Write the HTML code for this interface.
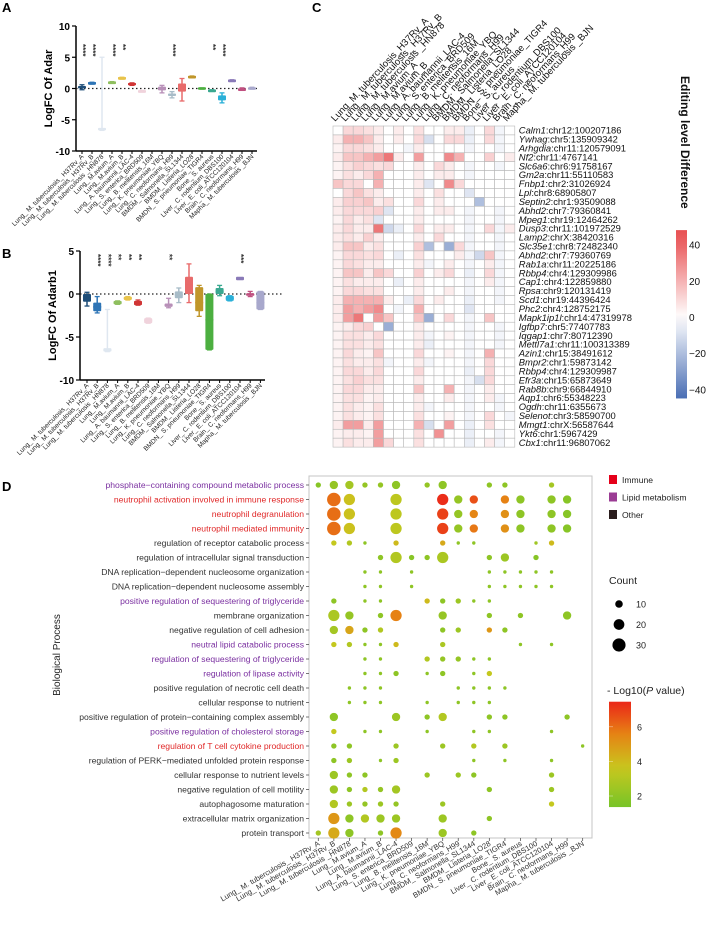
<!DOCTYPE html>
<html><head><meta charset="utf-8"><style>
body{margin:0;background:#fff}
svg text{font-family:"Liberation Sans",sans-serif}
</style></head><body>
<svg id="s" width="709" height="921" viewBox="0 0 709 921" xmlns="http://www.w3.org/2000/svg">
<text x="2" y="12" font-size="13" font-weight="bold">A</text>
<text x="2" y="258" font-size="13" font-weight="bold">B</text>
<text x="312" y="12" font-size="13" font-weight="bold">C</text>
<text x="2" y="491" font-size="13" font-weight="bold">D</text>
<g id="A"></g><g id="B"></g><g id="C"></g><g id="D"></g>
</svg>
<script>
const groups=["Lung_ M. tuberculosis_ H37Rv_A","Lung_ M. tuberculosis_ H37Rv_B","Lung_ M. tuberculosis _HN878","Lung_ M.avium_A","Lung_ M.avium_B","Lung_ A. baumannii_LAC-4","Lung_ S. enterica_BRD509","Lung_ B. melitensis_16M","Lung_ K. pneumoniae_YBQ","Lung_ C. neoformans_H99","BMDM_ Salmonella_SL1344","BMDM_ Listeria_LO28","BMDN_ S. pneumoniae_TIGR4","Bone_ S. aureus","Liver_ C. rodentium_DBS100","Liver_ E. coli_ATCC120104","Brain_ C. neoformans_H99","Mapha_ M. tuberculosis _BJN"];
const groupColors=['#1f4e79','#2e75b6','#dfe7f0','#8fbf5f','#e8c34a','#d03535','#f0d3dc','#eeeeee','#b890b8','#a8bcc8','#e86b6b','#c0962a','#4caf40','#3aa890','#2ab0d8','#8a7ab8','#c05080','#a8a8cc'];
const aMid=[0.2,0.9,-6.5,1.0,1.7,0.7,-0.4,null,0,-1,0.2,1.9,0,-0.3,-1.5,1.3,-0.1,0];
const aLo=[-0.2,0.7,-6.7,0.9,1.5,0.5,-0.5,null,-0.7,-1.5,-2,1.8,-0.1,-0.4,-2.3,1.2,-0.3,-0.1];
const aHi=[0.6,1.0,5,1.1,1.8,0.9,-0.3,null,0.5,-0.5,1.6,2.0,0.1,-0.2,-0.7,1.4,0.1,0.2];
const aQ1=[0,0.8,-6.7,0.9,1.5,0.5,-0.5,null,-0.3,-1.2,-0.5,1.8,-0.2,-0.4,-1.9,1.2,-0.3,-0.2];
const aQ3=[0.4,1.0,-6.3,1.1,1.8,0.9,-0.3,null,0.3,-0.8,0.8,2.0,0.2,-0.2,-1.1,1.4,0,0.2];
const aStars=["****","****","","****","**","","","","","****","","","","**","****","","",""];
const bMid=[-0.3,-1.5,-6.5,-1,-0.5,-1,-3.1,null,-1.3,-0.1,1,-1,-3,0.3,-0.5,1.8,-0.1,-1];
const bLo=[-1.4,-2.2,-6.7,-1.2,-0.7,-1.3,-3.4,null,-1.6,-1,-1,-2.6,-6.5,-0.2,-0.8,1.7,-0.3,-1.8];
const bHi=[0.2,-0.3,-1.8,-0.8,-0.3,-0.7,-2.8,null,-0.5,0.7,3.5,1,0,1,-0.2,1.9,0.3,0.3];
const bQ1=[-0.9,-2,-6.7,-1.2,-0.7,-1.3,-3.4,null,-1.5,-0.5,0,-2,-6.5,0,-0.8,1.6,-0.2,-1.8];
const bQ3=[0,-1,-6.3,-0.8,-0.3,-0.8,-2.8,null,-1.1,0.3,2,0.8,0,0.7,-0.2,2.0,0.1,0.3];
const bStars=["","****","****","**","**","**","","","**","","","","","","","***","",""];
const yTicksAB=[10,5,0,-5,-10];
const yTicksB=[5,0,-5,-10];

const NS="http://www.w3.org/2000/svg";
function mk(p,t,a,txt){const e=document.createElementNS(NS,t);for(const k in a)e.setAttribute(k,a[k]);if(txt!==undefined)e.textContent=txt;p.appendChild(e);return e;}

function boxPanel(gid,cfg){
  const g=document.getElementById(gid);
  const y=v=>cfg.y0+(cfg.vmax-v)*(cfg.y1-cfg.y0)/(cfg.vmax-cfg.vmin);
  const x=i=>cfg.x0+i*cfg.dx;
  let e=mk(g,'line',{x1:cfg.ax,y1:y(cfg.vmax),x2:cfg.ax,y2:y(cfg.vmin),stroke:'#000','stroke-width':1.5});
  
  e=mk(g,'line',{x1:cfg.ax,y1:y(cfg.vmin),x2:cfg.xend,y2:y(cfg.vmin),stroke:'#000','stroke-width':1.5});
  
  e=mk(g,'line',{x1:cfg.ax,y1:y(0),x2:cfg.xend+cfg.dotExt,y2:y(0),stroke:'#222','stroke-width':1.2,'stroke-dasharray':'1.5,2.5'});
  
  cfg.ticks.forEach(t=>{
    mk(g,'line',{x1:cfg.ax-4,y1:y(t),x2:cfg.ax,y2:y(t),stroke:'#000','stroke-width':1.2});
    const tt=mk(g,'text',{x:cfg.ax-6,y:y(t)+4,'font-size':10,'font-weight':'bold','text-anchor':'end'},t);
    
  });
  const yt=mk(g,'text',{transform:`translate(${cfg.ax-24},${(cfg.y0+cfg.y1)/2}) rotate(-90)`,'font-size':11,'font-weight':'bold','text-anchor':'middle'},cfg.title);
  
  groups.forEach((n,i)=>{
    mk(g,'line',{x1:x(i),y1:y(cfg.vmin),x2:x(i),y2:y(cfg.vmin)+3,stroke:'#000','stroke-width':1});
    const lt=mk(g,'text',{transform:`translate(${x(i)+2},${y(cfg.vmin)+6}) rotate(-45)`,'font-size':6.6,'text-anchor':'end',fill:'#222'},n);
    
    if(cfg.mid[i]===null)return;
    const c=groupColors[i];
    const gg=mk(g,'g',{});
    
    mk(gg,'line',{x1:x(i),y1:y(cfg.hi[i]),x2:x(i),y2:y(cfg.lo[i]),stroke:c,'stroke-width':1.5});
    mk(gg,'line',{x1:x(i)-2.5,y1:y(cfg.hi[i]),x2:x(i)+2.5,y2:y(cfg.hi[i]),stroke:c,'stroke-width':1.3});
    mk(gg,'line',{x1:x(i)-2.5,y1:y(cfg.lo[i]),x2:x(i)+2.5,y2:y(cfg.lo[i]),stroke:c,'stroke-width':1.3});
    const top=Math.min(y(cfg.q1[i]),y(cfg.q3[i])),h=Math.max(2.5,Math.abs(y(cfg.q1[i])-y(cfg.q3[i])));
    mk(gg,'rect',{x:x(i)-4,y:top,width:8,height:h,fill:c,rx:1});
    mk(gg,'line',{x1:x(i)-4,y1:y(cfg.mid[i]),x2:x(i)+4,y2:y(cfg.mid[i]),stroke:c,'stroke-width':1.5});
    if(cfg.stars[i]){
      const st=mk(g,'text',{transform:`translate(${x(i)-2},${cfg.starY}) rotate(90)`,'font-size':8,'font-weight':'bold',fill:'#333'},cfg.stars[i]);
      
    }
  });
}
boxPanel('A',{x0:82,dx:10,ax:76,xend:257,dotExt:0,y0:26,y1:151,vmax:10,vmin:-10,ticks:yTicksAB,title:'LogFC  Of Adar',mid:aMid,lo:aLo,hi:aHi,q1:aQ1,q3:aQ3,stars:aStars,starY:44});
boxPanel('B',{x0:87,dx:10.2,ax:80,xend:265,dotExt:18,y0:251,y1:380,vmax:5,vmin:-10,ticks:yTicksB,title:'LogFC  Of Adarb1',mid:bMid,lo:bLo,hi:bHi,q1:bQ1,q3:bQ3,stars:bStars,starY:254});

// ---------- Panel C heatmap ----------
const hmCols=["Lung_M. tuberculosis_H37Rv_A","Lung_ M. tuberculosis_ H37Rv_B","Lung_ M. tuberculosis _HN878","Lung_ M.avium_A","Lung_ M.avium_B","Lung_ A. baumannii_LAC-4","Lung_ S. enterica_BRD509","Lung_ B. melitensis_16M","Lung_ K. pneumoniae_YBQ","Lung_ C. neoformans_H99","BMDM_ Salmonella_SL1344","BMDM_ Listeria_LO28","BMDN_ S. pneumoniae_TIGR4","Bone_ S. aureus","Liver_ C. rodentium_DBS100","Liver_ E. coli_ATCC120104","Brain_ C. neoformans_H99","Mapha_ M. tuberculosis _BJN"];
const hmGenes=["Calm1","Ywhag","Arhgdia","Nf2","Slc6a6","Gm2a","Fnbp1","Lpl","Septin2","Abhd2","Mpeg1","Dusp3","Lamp2","Slc35e1","Abhd2","Rab1a","Rbbp4","Cap1","Rpsa","Scd1","Phc2","Mapk1ip1l","Igfbp7","Iqgap1","Mettl7a1","Azin1","Bmpr2","Rbbp4","Efr3a","Rab8b","Aqp1","Ogdh","Selenot","Mmgt1","Ykt6","Cbx1"];
const hmLoci=[":chr12:100207186",":chr5:135909342",":chr11:120579091",":chr11:4767141",":chr6:91758167",":chr11:55110583",":chr2:31026924",":chr8:68905807",":chr1:93509088",":chr7:79360841",":chr19:12464262",":chr11:101972529",":chrX:38420316",":chr8:72482340",":chr7:79360769",":chr11:20225186",":chr4:129309986",":chr4:122859880",":chr9:120131419",":chr19:44396424",":chr4:128752175",":chr14:47319978",":chr5:77407783",":chr7:80712390",":chr11:100313389",":chr15:38491612",":chr1:59873142",":chr4:129309987",":chr15:65873649",":chr9:66844910",":chr6:55348223",":chr11:6355673",":chr3:58590700",":chrX:56587644",":chr1:5967429",":chr11:96807062"];
const hmValues=[
[0,10,10,8,5,0,5,0,8,0,0,5,5,-5,0,10,-3,0],
[5,20,20,15,5,0,5,0,10,-10,0,10,10,-5,0,10,-3,0],
[3,10,10,8,5,0,0,-3,5,0,0,0,0,-3,0,0,-3,0],
[5,15,15,20,25,35,5,0,25,0,0,30,20,0,0,12,0,5],
[3,8,12,10,8,10,0,0,5,0,10,5,0,-3,0,0,-3,0],
[3,8,5,10,20,0,0,0,5,0,5,5,0,-3,0,0,0,0],
[15,10,10,0,20,0,0,0,5,-8,0,30,10,0,0,0,0,0],
[0,10,15,8,5,0,0,0,5,0,8,0,0,-8,0,0,0,0],
[5,12,12,15,5,8,0,0,10,0,5,0,0,0,-20,0,0,0],
[5,10,10,10,12,-8,0,0,5,0,5,5,0,-3,0,0,-3,0],
[3,10,5,8,-8,0,0,0,5,0,0,0,0,-3,0,0,-3,0],
[5,10,5,5,35,-12,-5,0,10,0,5,5,0,-3,0,10,-3,5],
[5,8,5,12,5,0,0,0,5,0,10,0,0,-3,0,0,-3,0],
[5,15,15,5,8,0,0,0,12,-20,0,-25,10,-3,0,0,-3,0],
[3,10,10,8,10,0,-5,0,8,0,0,0,5,-3,-12,15,-3,0],
[3,10,8,5,5,0,0,0,5,-3,0,5,0,-3,0,5,-3,0],
[3,15,15,5,15,10,0,0,12,0,5,10,0,-5,0,10,-3,0],
[3,8,5,5,5,0,-5,0,5,0,0,0,0,-3,0,5,-3,0],
[3,10,10,8,8,0,0,0,5,0,0,5,0,-3,0,0,-3,0],
[5,20,20,20,20,5,0,-5,10,0,5,0,0,-5,0,0,-3,0],
[5,25,20,25,30,0,-3,0,20,0,0,0,0,-8,0,0,0,0],
[5,25,35,0,25,15,0,0,15,-25,0,10,0,-3,0,15,0,0],
[3,5,10,12,0,-25,0,0,5,0,0,0,0,-3,0,0,-3,0],
[3,8,8,5,10,0,0,0,5,-3,0,3,0,-3,0,0,-3,0],
[3,8,8,5,8,0,0,0,5,-5,0,0,0,-3,0,0,-3,0],
[3,10,5,3,15,0,0,0,10,0,0,3,0,-3,0,20,0,0],
[3,8,5,5,8,-3,0,0,5,-3,0,0,0,-3,0,10,0,0],
[3,10,10,5,10,0,0,0,10,0,0,0,0,-5,0,10,0,0],
[3,8,12,8,8,0,0,0,5,0,0,0,0,-3,-10,10,0,0],
[3,10,10,5,5,0,0,0,15,0,0,20,0,-3,0,5,0,0],
[3,8,8,3,5,0,0,0,5,0,0,5,0,-3,0,5,-3,0],
[3,8,5,3,8,0,0,0,5,-3,0,0,0,-3,0,0,-3,0],
[3,8,5,3,8,0,0,0,8,0,0,3,0,-3,0,10,0,-3],
[5,25,25,5,25,0,0,0,20,-10,0,25,0,-5,0,8,0,0],
[3,5,5,3,25,0,0,0,8,0,28,0,0,-5,0,0,-3,0],
[3,8,5,5,25,10,0,0,8,0,0,0,0,-5,0,5,-3,0]];
const hmTicks=[40,20,0,-20,-40];

function hmColor(v){
  const t=Math.max(-1,Math.min(1,v/45));
  const mix=(a,b,f)=>a.map((c,k)=>Math.round(c+(b[k]-c)*f));
  const w=[255,255,255],r=[232,80,82],b=[74,110,180];
  const c=t>=0?mix(w,r,t):mix(w,b,-t);
  return `rgb(${c[0]},${c[1]},${c[2]})`;
}
(function(){
  const g=document.getElementById('C');
  const x0=333,cw=10.1,y0=126,rh=8.92;
  hmCols.forEach((n,j)=>{
    const t=mk(g,'text',{transform:`translate(${x0+j*cw+2},${y0-4}) rotate(-47)`,'font-size':9.6,fill:'#111'},n);
    
  });
  hmValues.forEach((row,i)=>{
    row.forEach((v,j)=>{
      const r=mk(g,'rect',{x:x0+j*cw,y:y0+i*rh,width:cw,height:rh,fill:hmColor(v),stroke:'#b8b8b8','stroke-width':0.6});
      
    });
    const t=mk(g,'text',{x:x0+18*cw+4,y:y0+i*rh+7.6,'font-size':9.4,fill:'#111'});
    
    mk(t,'tspan',{'font-style':'italic'},hmGenes[i]);
    mk(t,'tspan',{},hmLoci[i]);
  });
  // colorbar
  const defs=mk(g,'defs',{});
  const lg=mk(defs,'linearGradient',{id:'hmg',x1:0,y1:0,x2:0,y2:1});
  [[0,48],[0.5,0],[1,-45]].forEach(()=>{});
  for(let k=0;k<=10;k++){const v=48-(93*k/10);mk(lg,'stop',{offset:k/10,'stop-color':hmColor(v)});}
  const cy=v=>317-v*1.81;
  const cb=mk(g,'rect',{x:676,y:cy(48),width:11,height:cy(-45)-cy(48),fill:'url(#hmg)'});
  
  hmTicks.forEach(t=>{
    const tt=mk(g,'text',{x:689,y:cy(t)+4,'font-size':10,fill:'#111'},t===-20||t===-40?'\u2212'+Math.abs(t):t);
    
  });
  const ti=mk(g,'text',{transform:'translate(681,76) rotate(90)','font-size':12,'font-weight':'bold',fill:'#111'},'Editing level Difference');
  
})();

// ---------- Panel D dot plot ----------
const goTerms=["phosphate\u2212containing compound metabolic process","neutrophil activation involved in immune response","neutrophil degranulation","neutrophil mediated immunity","regulation of receptor catabolic process","regulation of intracellular signal transduction","DNA replication\u2212dependent nucleosome organization","DNA replication\u2212dependent nucleosome assembly","positive regulation of sequestering of triglyceride","membrane organization","negative regulation of cell adhesion","neutral lipid catabolic process","regulation of sequestering of triglyceride","regulation of lipase activity","positive regulation of necrotic cell death","cellular response to nutrient","positive regulation of protein\u2212containing complex assembly","positive regulation of cholesterol storage","regulation of T cell cytokine production","regulation of PERK\u2212mediated unfolded protein response","cellular response to nutrient levels","negative regulation of cell motility","autophagosome maturation","extracellular matrix organization","protein transport"];
const goCategory=["L","I","I","I","O","O","O","O","L","O","O","L","L","L","O","O","O","L","I","O","O","O","O","O","O"];
// each point: [row, column, count, -log10P]
const dotRows=[0,0,0,0,0,0,0,0,0,0,0,
 1,1,1,1,1,1,1,1,1,1, 2,2,2,2,2,2,2,2,2,2, 3,3,3,3,3,3,3,3,3,3,
 4,4,4,4,4,4,4,4,4, 5,5,5,5,5,5,5,5, 6,6,6,6,6,6,6,6, 7,7,7,7,7,7,7,7,
 8,8,8,8,8,8,8,8, 9,9,9,9,9,9,9,9, 10,10,10,10,10,10,10,10, 11,11,11,11,11,11,11,11,
 12,12,12,12,12,12,12, 13,13,13,13,13,13,13, 14,14,14,14,14,14,14, 15,15,15,15,15,15,15,
 16,16,16,16,16,16,16, 17,17,17,17,17,17,17, 18,18,18,18,18,18,18, 19,19,19,19,19,19,19,
 20,20,20,20,20,20,20, 21,21,21,21,21,21,21, 22,22,22,22,22,22,22, 23,23,23,23,23,23,23, 24,24,24,24,24,24,24];
const dotCols=[0,1,2,3,4,5,7,8,11,12,15,
 1,2,5,8,9,10,12,13,15,16, 1,2,5,8,9,10,12,13,15,16, 1,2,5,8,9,10,12,13,15,16,
 1,2,3,5,8,9,10,14,15, 4,5,6,7,8,11,12,14, 3,4,6,11,12,13,14,15, 3,4,6,11,12,13,14,15,
 1,3,4,7,8,9,10,11, 1,2,4,5,8,11,13,16, 1,2,3,4,8,9,11,12, 1,2,3,4,5,8,13,15,
 3,4,7,8,9,10,11, 3,4,5,7,8,10,11, 2,3,4,9,10,11,12, 2,3,4,7,9,10,11,
 1,5,7,8,11,12,16, 1,3,4,7,10,11,15, 1,2,5,8,10,12,17, 1,2,4,5,10,12,15,
 1,2,3,7,9,10,15, 1,2,3,4,5,11,15, 1,2,3,4,5,8,15, 1,2,3,4,5,8,11, 0,1,2,4,5,8,10];
const dotCounts=[5,12,12,5,5,12,5,12,5,5,5,
 32,22,22,22,12,12,12,12,12,12, 32,22,22,22,12,12,12,12,12,12, 32,22,22,22,12,12,12,12,12,12,
 5,5,2,5,5,2,2,2,5, 5,22,5,5,22,5,12,5, 2,2,2,2,2,2,2,2, 2,2,2,2,2,2,2,2,
 5,2,2,5,5,5,2,2, 22,12,5,22,12,5,5,12, 12,12,5,5,5,5,5,5, 5,5,2,2,5,5,2,2,
 2,2,5,5,5,2,2, 2,2,5,2,5,2,5, 2,2,2,2,2,2,2, 2,2,2,2,2,2,2,
 12,12,5,12,5,5,5, 5,2,2,2,2,2,2, 5,5,5,5,5,5,2, 5,5,2,5,2,2,2,
 12,5,5,5,5,5,5, 12,5,5,5,12,5,5, 12,5,5,5,5,5,5, 22,12,12,12,12,12,5, 5,22,12,5,22,12,5];
const dotP=[1.8,2.2,2.6,2.2,2.2,2.0,2.2,2.0,2.0,2.0,2.6,
 6.0,3.8,3.3,7.3,2.2,6.6,5.6,2.0,2.0,1.8, 6.0,3.8,3.3,6.9,2.2,5.5,5.2,2.0,2.0,1.8, 6.0,3.8,3.3,6.9,2.2,5.8,5.2,2.0,2.0,1.8,
 3.5,3.0,2.0,4.0,4.5,2.0,2.0,2.5,4.0, 2.0,3.0,1.8,2.0,2.8,2.0,2.4,1.8, 2,2,2,2,2,2,2,2, 2,2,2,2,2,2,2,2,
 2.0,2.0,2.0,4.0,2.0,2.4,2.0,2.0, 2.8,2.2,2.0,5.6,2.2,2.0,2.0,2.0, 2.6,4.6,2.0,3.0,2.0,2.4,5.0,2.0, 3.5,3.0,2.0,2.0,4.0,2.8,2.0,2.0,
 2,2,3.0,2.2,2.2,2,2, 2,2,2.0,2,2.0,2,3.5, 2,2,2,2,2,2,2, 2,2,2,2,2,2,2,
 2.0,2.4,2.0,3.0,2.0,2.0,2.0, 3.5,2,2,2,2,2,2, 2.0,2.0,2.4,2.4,3.0,2.4,2, 2.0,2.4,2,2.4,2,2,2,
 2.4,2.0,2.0,2.4,2.4,2.0,2.4, 2.4,2.0,3.0,2.2,2.6,2.0,2.4, 3.0,2.4,2.2,2.4,2.2,2.4,3.5, 5.0,2.0,3.0,2.4,2.4,2.4,2.0, 2.6,4.5,2.0,2.0,5.4,2.4,2.0];
const countLegend=[10,20,30];
const pTicks=[6,4,2];

function pColor(v){
  const stops=[[1.4,[120,196,40]],[3.6,[200,200,30]],[5.6,[230,130,20]],[7.4,[235,40,25]]];
  if(v<=stops[0][0])return `rgb(${stops[0][1]})`;
  for(let k=1;k<stops.length;k++){if(v<=stops[k][0]){const f=(v-stops[k-1][0])/(stops[k][0]-stops[k-1][0]);const a=stops[k-1][1],b=stops[k][1];return `rgb(${a.map((c,m)=>Math.round(c+(b[m]-c)*f))})`;}}
  return `rgb(${stops[3][1]})`;
}
(function(){
  const g=document.getElementById('D');
  const X=j=>318.3+j*15.55, Y=i=>485+i*14.5, R=c=>1.2*Math.sqrt(c);
  const box=mk(g,'rect',{x:309,y:476,width:283,height:362,fill:'none',stroke:'#c4c4c4','stroke-width':1});
  
  const catColor={I:'#e02828',L:'#7a2fa0',O:'#333'};
  goTerms.forEach((t,i)=>{
    mk(g,'line',{x1:306,y1:Y(i),x2:309,y2:Y(i),stroke:'#555','stroke-width':0.8});
    const tt=mk(g,'text',{x:304,y:Y(i)+3,'font-size':8.6,'text-anchor':'end',fill:catColor[goCategory[i]]},t);
    
  });
  groups.forEach((n,j)=>{
    mk(g,'line',{x1:X(j),y1:838,x2:X(j),y2:841,stroke:'#555','stroke-width':0.8});
    const tt=mk(g,'text',{transform:`translate(${X(j)+2},${845}) rotate(-30)`,'font-size':7.6,'text-anchor':'end',fill:'#333'},n);
    
  });
  dotRows.forEach((r,k)=>{
    const c=mk(g,'circle',{cx:X(dotCols[k]),cy:Y(r),r:R(dotCounts[k]),fill:pColor(dotP[k])});
    
  });
  const yt=mk(g,'text',{transform:'translate(60,655) rotate(-90)','font-size':10,'text-anchor':'middle',fill:'#222'},'Biological Process');
  
  // category legend
  [['Immune','#e5001a'],['Lipid metabolism','#9b3c94'],['Other','#2a1d1d']].forEach((d,k)=>{
    const y=475+k*17.5;
    const r=mk(g,'rect',{x:609,y:y,width:8,height:9,fill:d[1]});
    
    const t=mk(g,'text',{x:622,y:y+8,'font-size':8.6,fill:'#222'},d[0]);
    
  });
  const ct=mk(g,'text',{x:609,y:584,'font-size':10.5,fill:'#222'},'Count');
  
  countLegend.forEach((c,k)=>{
    const y=604+k*20.5;
    const cc=mk(g,'circle',{cx:619,cy:y,r:R(c),fill:'#000'});
    
    const t=mk(g,'text',{x:636,y:y+3.5,'font-size':9,fill:'#222'},c);
    
  });
  const pt=mk(g,'text',{x:607,y:694,'font-size':10.5,fill:'#222'});
  
  mk(pt,'tspan',{},'- Log10(');mk(pt,'tspan',{'font-style':'italic'},'P');mk(pt,'tspan',{},' value)');
  const defs=mk(g,'defs',{});
  const lg=mk(defs,'linearGradient',{id:'pg',x1:0,y1:0,x2:0,y2:1});
  for(let k=0;k<=10;k++){mk(lg,'stop',{offset:k/10,'stop-color':pColor(7.45-6.1*k/10)});}
  const py=v=>796-(v-2)*17.3;
  const cb=mk(g,'rect',{x:609,y:py(7.45),width:22,height:py(1.36)-py(7.45),fill:'url(#pg)'});
  
  pTicks.forEach(t=>{
    mk(g,'line',{x1:609,y1:py(t),x2:613,y2:py(t),stroke:'#fff','stroke-width':0.6,opacity:0.6});
    const tt=mk(g,'text',{x:637,y:py(t)+3.5,'font-size':9,fill:'#222'},t);
    
  });
})();
</script>
</body></html>
